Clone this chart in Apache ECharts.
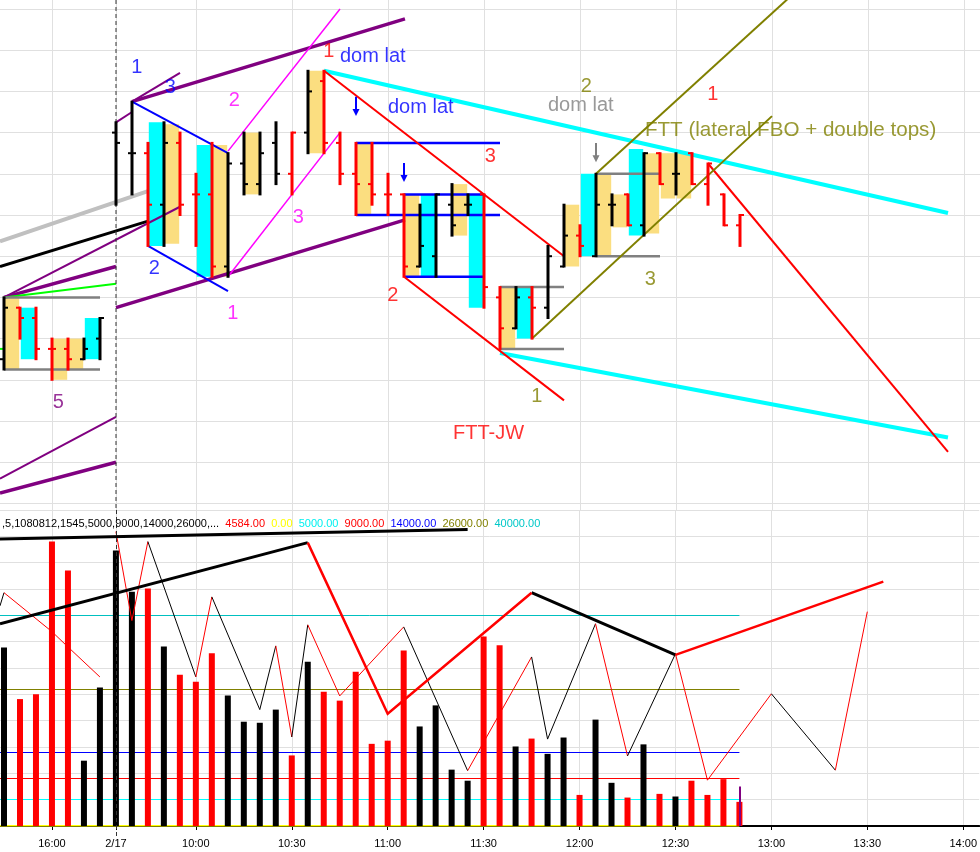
<!DOCTYPE html>
<html><head><meta charset="utf-8">
<script src="https://cdn.jsdelivr.net/npm/echarts@6/dist/echarts.min.js"></script>
<style>html,body{margin:0;padding:0;background:#fff}#c{width:980px;height:852px}</style>
</head><body><div id="c"></div>
<script>
// ---------- axis ticks ----------
const tickIdx = [3, 7, 12, 18, 24, 30, 36, 42, 48, 54, 60];
const tickLabels = ['16:00', '2/17', '10:00', '10:30', '11:00', '11:30', '12:00', '12:30', '13:00', '13:30', '14:00'];
const priceGrid = [1348, 1349, 1350, 1351, 1352, 1353, 1354, 1355, 1356, 1357, 1358, 1359, 1360];
const sessionBreak = 7;

// ---------- price bars: [index, open, high, low, close] ----------
const ohlc = [
  [0, 1351.5, 1353, 1351.25, 1352.75], [1, 1352.75, 1352.75, 1352, 1352.5], [2, 1352.5, 1352.75, 1351.5, 1351.75],
  [3, 1351.75, 1352, 1351, 1351.75], [4, 1351.75, 1352, 1351.25, 1351.5], [5, 1351.5, 1352, 1351.5, 1351.75],
  [6, 1352, 1352.5, 1351.5, 1352.5], [7, 1357, 1357.25, 1355.25, 1356.75], [8, 1356.5, 1357.75, 1355.5, 1356.5],
  [9, 1356.5, 1356.75, 1354.25, 1355.25], [10, 1355.25, 1357.25, 1354.25, 1356.75], [11, 1356.75, 1357, 1355, 1355.25],
  [12, 1355.5, 1356, 1354.25, 1355.5], [13, 1355.5, 1356.75, 1353.5, 1353.75], [14, 1353.75, 1356.5, 1353.5, 1356.25],
  [15, 1356.25, 1357, 1355.5, 1355.75], [16, 1355.75, 1357, 1355.5, 1356.5], [17, 1356.75, 1357.25, 1355.75, 1356],
  [18, 1356, 1357, 1355.5, 1357], [19, 1357, 1358.5, 1356.5, 1358], [20, 1358.25, 1358.5, 1356.5, 1356.75],
  [21, 1356.75, 1357, 1355.75, 1356], [22, 1356, 1356.75, 1355, 1355.75], [23, 1355.75, 1356.75, 1355.25, 1355.5],
  [24, 1355.5, 1356, 1355, 1355.5], [25, 1355.5, 1355.5, 1353.5, 1353.75], [26, 1353.75, 1355.25, 1353.75, 1354.25],
  [27, 1354, 1355.5, 1353.5, 1355.5], [28, 1355.25, 1355.75, 1354.5, 1354.75], [29, 1355.25, 1355.5, 1355, 1355.25],
  [30, 1355.5, 1355.5, 1352.75, 1353.25], [31, 1353, 1353.25, 1351.75, 1352.25], [32, 1352.25, 1353.25, 1352.25, 1353],
  [33, 1353, 1353.25, 1352, 1352.75], [34, 1352.75, 1354.25, 1352.5, 1354], [35, 1353.75, 1355.25, 1353.75, 1354.5],
  [36, 1354.5, 1354.75, 1354, 1354.25], [37, 1354, 1356, 1354, 1355.25], [38, 1355.25, 1355.5, 1354.75, 1355.25],
  [39, 1355.5, 1355.5, 1354.75, 1354.75], [40, 1354.75, 1356.5, 1354.5, 1356.5], [41, 1356.5, 1356.5, 1355.75, 1355.75],
  [42, 1356, 1356.5, 1355.5, 1356], [43, 1356.5, 1356.5, 1355.75, 1355.75], [44, 1355.75, 1356.25, 1355.25, 1356.25],
  [45, 1355.5, 1355.5, 1354.75, 1354.75], [46, 1354.75, 1355, 1354.25, 1355]
];
// bar direction (1 = up/black, -1 = down/red)
const barDir = [1,-1,-1,-1,-1,1,1,1,1,-1,1,-1,-1,-1,1,1,1,1,-1,1,-1,-1,-1,-1,-1,-1,1,1,1,1,-1,-1,1,-1,1,1,-1,1,1,-1,1,-1,1,-1,-1,-1,-1];
const volume = [33900,24100,25000,54000,48500,12400,26300,52300,44500,45100,34100,28700,27400,32800,24800,19800,19600,22100,13400,31200,25500,23800,29300,15600,16200,33300,18900,22900,10700,8600,36000,34300,15100,16600,13700,16800,5900,20200,8200,5400,15500,6100,5600,8600,5900,8900,4584];
const projectedVolume = [46, 7500];

// ---------- range boxes: [center, low, high] ----------
const boxesYellow = [
  [0.5, 1351.25, 1353], [3.5, 1351, 1352], [4.5, 1351.25, 1352], [10.5, 1354.3, 1357.2], [13.5, 1353.5, 1356.7],
  [15.5, 1355.5, 1357], [19.5, 1356.5, 1358.5], [22.5, 1355, 1356.75], [25.5, 1353.5, 1355.5], [28.5, 1354.5, 1355.75],
  [31.5, 1351.75, 1353.25], [35.5, 1353.75, 1355.25], [37.5, 1354, 1356], [38.5, 1354.7, 1355.5], [40.5, 1354.55, 1356.5],
  [41.5, 1355.4, 1356.5], [42.5, 1355.4, 1356.5]
];
const boxesCyan = [
  [1.5, 1351.5, 1352.75], [5.5, 1351.5, 1352.5], [9.5, 1354.25, 1357.25], [12.5, 1353.5, 1356.7], [26.5, 1353.5, 1355.5],
  [29.5, 1352.75, 1355.5], [32.5, 1352, 1353.25], [36.5, 1354, 1356], [39.5, 1354.5, 1356.6]
];

// ---------- trend lines (price pane): polylines of [index, price] ----------
const cyanLines = [[[20, 1358.5], [59, 1355.05]], [[31, 1351.65], [59, 1349.6]]];
const redLines = [[[20, 1358.5], [35, 1354.0]], [[25, 1353.5], [35, 1350.5]], [[44, 1356.25], [59, 1349.25]]];
const oliveLines = [[[37, 1356.0], [49, 1360.25]], [[33, 1352.0], [48, 1357.4]]];
const silverLines = [[[-0.25, 1354.36], [9, 1355.58]]];
const blackLines = [[[-0.25, 1353.75], [9, 1354.85]]];
const purpleThick = [[[8, 1357.75], [25.06, 1359.76]], [[0, 1353.0], [7, 1353.75]], [[7, 1352.75], [25.06, 1354.88]], [[-0.25, 1348.25], [7, 1349.0]]];
const purpleThin = [[[8, 1357.75], [11, 1358.45]], [[7, 1357.25], [8, 1357.5]], [[0, 1353.0], [11, 1355.2]], [[-0.25, 1348.6], [7, 1350.1]]];
const blueLines = [[[8, 1357.75], [14, 1356.5]], [[9, 1354.25], [14, 1353.15]]];
const magentaLines = [[[14, 1356.55], [21, 1360.0]], [[14, 1353.5], [21, 1357.0]]];
const greenLines = [[[0, 1353.0], [7, 1353.33]], [[-0.25, 1351.75], [0, 1351.75]]];
const grayLevels = [[[0, 1353], [6, 1353]], [[0, 1351.25], [6, 1351.25]], [[31, 1353.25], [35, 1353.25]], [[31, 1351.75], [35, 1351.75]], [[37, 1356], [41, 1356]], [[37, 1354], [41, 1354]]];
const blueLevels = [[[22, 1356.75], [31, 1356.75]], [[22, 1355], [31, 1355]], [[25, 1355.5], [30, 1355.5]], [[25, 1353.5], [30, 1353.5]]];
// arrows: [index, from price, to price]
const blueArrows = [[22, 1357.87, 1357.4], [25, 1356.26, 1355.8]];
const grayArrows = [[37, 1356.75, 1356.28]];

// ---------- annotations: [index, price, text, colour, align] ----------
const annotations = [
  [8.3, 1358.57, '1', 'blue', 'center'], [10.4, 1358.09, '3', 'blue', 'center'], [14.4, 1357.79, '2', 'magenta', 'center'],
  [20.3, 1358.96, '1', 'red', 'center'], [21.0, 1358.84, 'dom lat', 'blue', 'left'], [24.0, 1357.62, 'dom lat', 'blue', 'left'],
  [30.4, 1356.43, '3', 'red', 'center'], [36.4, 1358.13, '2', 'olive', 'center'], [34.0, 1357.65, 'dom lat', 'gray', 'left'],
  [44.3, 1357.93, '1', 'red', 'center'], [40.06, 1357.06, 'FTT (lateral FBO + double tops)', 'olive', 'left'],
  [18.4, 1354.93, '3', 'magenta', 'center'], [9.4, 1353.71, '2', 'blue', 'center'], [14.3, 1352.62, '1', 'magenta', 'center'],
  [24.3, 1353.04, '2', 'red', 'center'], [40.4, 1353.44, '3', 'olive', 'center'], [3.4, 1350.44, '5', 'purple', 'center'],
  [33.3, 1350.59, '1', 'olive', 'center'], [28.06, 1349.69, 'FTT-JW', 'red', 'left']
];

// ---------- volume pane ----------
const headerPrefix = ',5,1080812,1545,5000,9000,14000,26000,...';
const headerValues = ['4584.00', '0.00', '5000.00', '9000.00', '14000.00', '26000.00', '40000.00'];
const levelValues = [0, 5000, 9000, 14000, 26000, 40000];
const levelEnd = 46;
const volTrendBlack = [[[-0.25, 54500], [29, 56300]], [[-0.25, 38400], [19, 53800]], [[33, 44300], [42, 32500]]];
const volTrendRed = [[[19, 53800], [24, 21300], [33, 44300]], [[42, 32500], [55, 46400]]];
const volZigA = [[-0.25, 41800], [0, 44300], [3, 36900], [4, 34000], [6, 28300]];
const volZigADir = ['k', 'r', 'r', 'r'];
const volZigB = [[7, 55900], [8, 39000], [9, 54000], [12, 28300], [13, 43500], [16, 22100], [17, 34200], [18, 16900], [19, 38200], [21, 24700], [25, 37800], [29, 10500], [33, 32100], [34, 16500], [37, 38400], [39, 13300], [42, 32700], [44, 8700], [48, 25100], [52, 10600], [54, 40700]];
const volZigBDir = ['r', 'r', 'k', 'r', 'k', 'k', 'r', 'k', 'r', 'r', 'k', 'r', 'k', 'k', 'r', 'k', 'r', 'r', 'k', 'r'];

// ---------- styles ----------
const FONT = "'Liberation Sans', Arial, sans-serif";
const COL = { blue: '#0000ff', magenta: '#ff00ff', red: '#ff0000', olive: '#808000', gray: '#808080', purple: '#800080', black: '#000000' };
const YMAX = 1348 + 503.4 / 41.2;
const YMIN = 1348 - 6.6 / 41.2;

function linesSeries(data, color, width, extra) {
  return Object.assign({
    type: 'lines', coordinateSystem: 'cartesian2d', xAxisIndex: 0, yAxisIndex: 0, polyline: true, silent: true, z: 3,
    data: data.map(c => ({ coords: c })),
    lineStyle: { color: color, width: width, opacity: 1, curveness: 0 }
  }, extra || {});
}
function segs(points, dirs) {
  return dirs.map((d, k) => ({ coords: [points[k], points[k + 1]], lineStyle: { color: d === 'r' ? '#ff0000' : '#000000' } }));
}
function boxSeries(data, color) {
  return {
    type: 'custom', xAxisIndex: 0, yAxisIndex: 0, silent: true, z: 1, data: data,
    encode: { x: 0, y: [1, 2] },
    renderItem: function (params, api) {
      const c = api.value(0), lo = api.value(1), hi = api.value(2);
      const p1 = api.coord([c - 0.45, hi]), p2 = api.coord([c + 0.45, lo]);
      return { type: 'rect', shape: { x: p1[0], y: p1[1], width: p2[0] - p1[0], height: p2[1] - p1[1] }, style: { fill: color } };
    }
  };
}
function arrowSeries(data, color) {
  return {
    type: 'custom', xAxisIndex: 0, yAxisIndex: 0, silent: true, z: 6, data: data,
    encode: { x: 0, y: [1, 2] },
    renderItem: function (params, api) {
      const i = api.value(0);
      const a = api.coord([i, api.value(1)]), b = api.coord([i, api.value(2)]);
      return { type: 'group', children: [
        { type: 'line', shape: { x1: a[0], y1: a[1], x2: b[0], y2: b[1] - 5 }, style: { stroke: color, lineWidth: 2 } },
        { type: 'polygon', shape: { points: [[b[0] - 3.5, b[1] - 7], [b[0] + 3.5, b[1] - 7], [b[0], b[1]]] }, style: { fill: color } }
      ] };
    }
  };
}

const series = [];
series.push(boxSeries(boxesYellow, '#fbde80'));
series.push(boxSeries(boxesCyan, '#00ffff'));
series.push(linesSeries(silverLines, '#c0c0c0', 4));
series.push(linesSeries(blackLines, '#000000', 3));
series.push(linesSeries(purpleThick, COL.purple, 3.5));
series.push(linesSeries(purpleThin, COL.purple, 2));
series.push(linesSeries(greenLines, '#00ff00', 2));
series.push(linesSeries(grayLevels, '#808080', 2.5));
series.push(linesSeries(blueLevels, '#0000ff', 2.5));
series.push(linesSeries(blueLines, '#0000ff', 2));
series.push(linesSeries(magentaLines, '#ff00ff', 1.5));
series.push(linesSeries(cyanLines, '#00ffff', 4));
series.push(linesSeries(redLines, '#ff0000', 2));
series.push(linesSeries(oliveLines, '#808000', 2));
series.push(arrowSeries(blueArrows, '#0000ff'));
series.push(arrowSeries(grayArrows, '#808080'));
// session break dashed line
series.push(linesSeries([[[sessionBreak, YMAX], [sessionBreak, YMIN]]], '#333333', 1, { lineStyle: { color: '#333333', width: 1, type: [4, 3], opacity: 1 }, clip: false }));

// OHLC bars
series.push({
  type: 'custom', xAxisIndex: 0, yAxisIndex: 0, silent: true, z: 5,
  data: ohlc.map((b, k) => [b[0], b[1], b[2], b[3], b[4], barDir[k]]),
  encode: { x: 0, y: [1, 2, 3, 4] },
  renderItem: function (params, api) {
    const i = api.value(0), o = api.value(1), h = api.value(2), l = api.value(3), c = api.value(4), d = api.value(5);
    const pH = api.coord([i, h]), pL = api.coord([i, l]), pO = api.coord([i, o]), pC = api.coord([i, c]);
    const col = d > 0 ? '#000000' : '#ff0000';
    return { type: 'group', children: [
      { type: 'line', shape: { x1: pH[0], y1: pH[1] - 1, x2: pL[0], y2: pL[1] + 1 }, style: { stroke: col, lineWidth: 3 } },
      { type: 'line', shape: { x1: pO[0] - 4, y1: pO[1], x2: pO[0], y2: pO[1] }, style: { stroke: col, lineWidth: 2 } },
      { type: 'line', shape: { x1: pC[0], y1: pC[1], x2: pC[0] + 4, y2: pC[1] }, style: { stroke: col, lineWidth: 2 } }
    ] };
  }
});

// annotations
series.push({
  type: 'scatter', xAxisIndex: 0, yAxisIndex: 0, silent: true, z: 7, symbolSize: 1,
  itemStyle: { color: 'transparent' },
  label: { show: true, position: 'inside', fontSize: 20, fontFamily: FONT, verticalAlign: 'middle' },
  data: annotations.map(a => ({ value: [a[0], a[1]], label: { formatter: a[2], color: COL[a[3]], align: a[4], fontSize: a[2].length > 10 ? 20.6 : 20 } }))
});

// ---------- volume pane series ----------
const levelColors = ['#ffff00', '#00ffff', '#ff0000', '#0000ff', '#808000', '#00c0c0'];
series.push({
  type: 'lines', coordinateSystem: 'cartesian2d', xAxisIndex: 1, yAxisIndex: 1, silent: true, z: 1,
  data: levelValues.map((v, k) => ({ coords: [[-0.25, v], [levelEnd, v]], lineStyle: { color: levelColors[k], width: k === 0 ? 2 : 1 } })),
  lineStyle: { opacity: 1, width: 1 }
});
series.push({
  type: 'bar', xAxisIndex: 1, yAxisIndex: 1, silent: true, z: 2, barWidth: 6,
  data: volume.map((v, i) => ({ value: [i, v], itemStyle: { color: barDir[i] > 0 ? '#000000' : '#ff0000' } }))
});
series.push({
  type: 'lines', coordinateSystem: 'cartesian2d', xAxisIndex: 1, yAxisIndex: 1, silent: true, z: 3,
  data: [{ coords: [[projectedVolume[0], 0], [projectedVolume[0], projectedVolume[1]]] }],
  lineStyle: { color: '#800080', width: 2, opacity: 1 }
});
series.push({
  type: 'lines', coordinateSystem: 'cartesian2d', xAxisIndex: 1, yAxisIndex: 1, silent: true, z: 4,
  data: segs(volZigA, volZigADir).concat(segs(volZigB, volZigBDir)),
  lineStyle: { width: 1, opacity: 1 }
});
series.push({
  type: 'lines', coordinateSystem: 'cartesian2d', xAxisIndex: 1, yAxisIndex: 1, silent: true, z: 5, polyline: true,
  data: volTrendBlack.map(c => ({ coords: c })), lineStyle: { color: '#000000', width: 3, opacity: 1 }
});
series.push({
  type: 'lines', coordinateSystem: 'cartesian2d', xAxisIndex: 1, yAxisIndex: 1, silent: true, z: 5, polyline: true,
  data: volTrendRed.map(c => ({ coords: c })), lineStyle: { color: '#ff0000', width: 2.5, opacity: 1 }
});
series.push({
  type: 'lines', coordinateSystem: 'cartesian2d', xAxisIndex: 1, yAxisIndex: 1, silent: true, z: 6, clip: false,
  data: [{ coords: [[sessionBreak, 60000], [sessionBreak, -2300]] }],
  lineStyle: { color: '#333333', width: 1, type: [4, 3], opacity: 1 }
});

// header (indicator parameters)
const headerColors = ['r', 'y', 'c', 'r', 'b', 'o', 't'];
const headerText = '{k|' + headerPrefix + '}  ' + headerValues.map((v, k) => '{' + headerColors[k] + '|' + v + '}').join('  ');

const gridLine = { show: true, lineStyle: { color: '#e0e0e0', width: 1 } };
const option = {
  animation: false,
  backgroundColor: '#ffffff',
  title: {
    left: 2, top: 518, padding: 0, text: headerText,
    textStyle: { fontSize: 11, fontWeight: 'normal', fontFamily: FONT, color: '#000',
      rich: {
        k: { color: '#000000', fontSize: 11, fontFamily: FONT },
        r: { color: '#ff0000', fontSize: 11, fontFamily: FONT },
        y: { color: '#ffff00', fontSize: 11, fontFamily: FONT },
        c: { color: '#00f0f0', fontSize: 11, fontFamily: FONT },
        b: { color: '#0000ff', fontSize: 11, fontFamily: FONT },
        o: { color: '#808000', fontSize: 11, fontFamily: FONT },
        t: { color: '#00c8c8', fontSize: 11, fontFamily: FONT }
      } }
  },
  grid: [
    { left: 0, right: 0, top: 0, height: 510 },
    { left: 0, right: 0, top: 510, height: 316 }
  ],
  xAxis: [
    { gridIndex: 0, type: 'value', min: -0.25, max: 61,
      axisLine: { show: false }, axisTick: { show: false, customValues: tickIdx }, axisLabel: { show: false, customValues: tickIdx },
      splitLine: gridLine },
    { gridIndex: 1, type: 'value', min: -0.25, max: 61, offset: 6,
      axisLine: { show: true, lineStyle: { color: '#000000', width: 2 } },
      axisTick: { show: true, customValues: tickIdx, length: 4, lineStyle: { color: '#000000' } },
      axisLabel: { customValues: tickIdx, formatter: v => tickLabels[tickIdx.indexOf(v)], fontSize: 11, fontFamily: FONT, color: '#000000', margin: 6 },
      splitLine: gridLine }
  ],
  yAxis: [
    { gridIndex: 0, type: 'value', min: YMIN, max: YMAX, position: 'right',
      axisLine: { show: false }, axisTick: { show: false, customValues: priceGrid }, axisLabel: { show: false, customValues: priceGrid },
      splitLine: gridLine },
    { gridIndex: 1, type: 'value', min: 0, max: 60000, interval: 5000, position: 'right',
      axisLine: { show: false }, axisTick: { show: false }, axisLabel: { show: false },
      splitLine: gridLine }
  ],
  series: series
};
const chart = echarts.init(document.getElementById('c'), null, { renderer: 'canvas' });
chart.setOption(option);
</script>
</body></html>
